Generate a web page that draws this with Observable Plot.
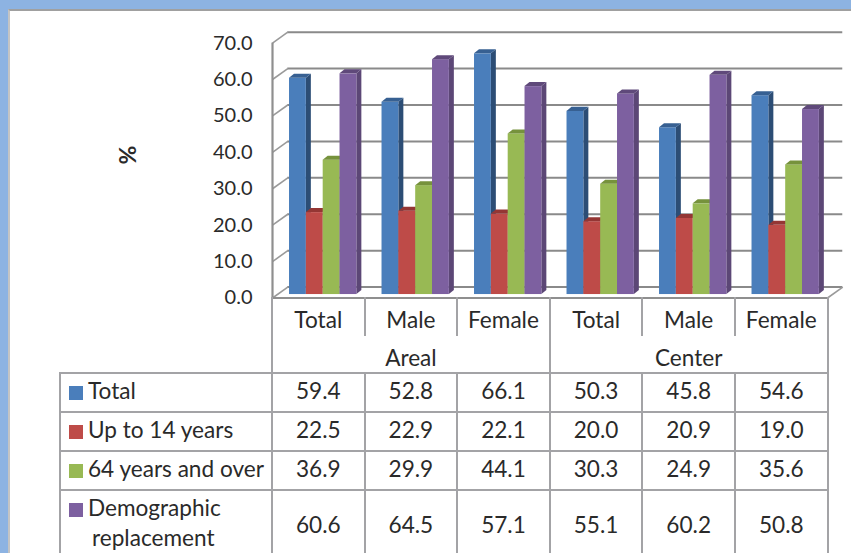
<!DOCTYPE html>
<html><head><meta charset="utf-8">
<script src="https://cdn.jsdelivr.net/npm/d3@7"></script>
<script src="https://cdn.jsdelivr.net/npm/@observablehq/plot@0.6"></script>
<style>
html,body{margin:0;padding:0;width:851px;height:553px;overflow:hidden;background:#fff;font-family:Lato,sans-serif;color:#2a2a2a}
#frame{position:absolute;left:0;top:0;width:851px;height:553px;box-sizing:border-box;background:#fff;border-top:9px solid #8db3e2;border-left:8px solid #8db3e2}
#frame:after{content:"";position:absolute;left:0;top:0;right:0;bottom:0;border-top:2px solid #a0a0a0;border-left:2px solid #c4c4c4}
#chart{position:absolute;left:0;top:0}
#chart svg{background:transparent;display:block}
table{position:absolute;left:59px;top:297px;border-collapse:collapse;table-layout:fixed;width:768px;font-size:22.6px;line-height:24px}
td{border:2px solid #a3a3a6;text-align:center;padding:0 0 4px 0;white-space:nowrap;overflow:visible}
td.n{border:none;padding:0}
td.sub{border-top:none;border-bottom:none;vertical-align:middle;padding:8px 0 0 0}
td.top{border-top:none;border-bottom:none;vertical-align:middle;padding:7px 0 0 0}
td.top.s{position:relative;border-right:none}
td.top.s:after{content:"";position:absolute;right:-2px;top:0;width:2px;height:37px;background:#a3a3a6}
td.lab{text-align:left;padding-left:8px}
td.lab i{display:inline-block;width:14px;height:14px;margin-right:5px;vertical-align:-1px}
td.b{border-bottom:none;padding:6px 0 0 0}
td.lab.b{line-height:30px;padding:2px 0 0 8px}
td.lab span.ind{display:block;padding-left:23px}
</style></head><body>
<div id="frame"></div>
<div id="chart"></div>
<script>
const regions = ["Areal", "Center"];
const categories = ["Total", "Male", "Female"];
const seriesNames = ["Total", "Up to 14 years", "64 years and over", "Demographic replacement"];
const totalValues = [59.4, 52.8, 66.1, 50.3, 45.8, 54.6];
const youngValues = [22.5, 22.9, 22.1, 20.0, 20.9, 19.0];
const oldValues = [36.9, 29.9, 44.1, 30.3, 24.9, 35.6];
const replacementValues = [60.6, 64.5, 57.1, 55.1, 60.2, 50.8];
const yTicks = [0, 10, 20, 30, 40, 50, 60, 70];

const faces = [
  {front:"#4a7ebb", side:"#2c4d75", top:"#376092"},
  {front:"#be4b48", side:"#8c3836", top:"#943634"},
  {front:"#98b954", side:"#71893f", top:"#76923c"},
  {front:"#7d60a0", side:"#5c4776", top:"#5f497a"}
];
const allValues = [totalValues, youngValues, oldValues, replacementValues];

// Plot geometry in scale units
const barLift = 0.95, backLift = 3, backShift = 0.165, barStart = 0.184, barW = 0.182, dX = 0.054, dY = 1.1;

const marks = [];
// back wall
marks.push(Plot.ruleY(yTicks, {y: d => d + backLift, x1: backShift, x2: 6 + backShift, stroke: "#8a8a8a", strokeWidth: 2}));
marks.push(Plot.link(yTicks, {x1: 0, x2: backShift, y1: d => d, y2: d => d + backLift, stroke: "#9a9a9a", strokeWidth: 1.6}));
marks.push(Plot.link([0], {x1: 6, x2: 6 + backShift, y1: 0, y2: backLift, stroke: "#9a9a9a", strokeWidth: 1.6}));

allValues.forEach((vals, j) => {
  const bars = vals.map((v, i) => ({v, x0: i + barStart + j * barW, x1: i + barStart + (j + 1) * barW, i}));
  const side = bars.flatMap(b => [
    {i: b.i, x: b.x1, lo: barLift, hi: b.v + barLift},
    {i: b.i, x: b.x1 + dX, lo: barLift + dY, hi: b.v + barLift + dY}
  ]);
  const top = bars.flatMap(b => {
    const base = b.v + barLift;
    return [
      {i: b.i, x: b.x0, lo: base, hi: base},
      {i: b.i, x: b.x0 + dX, lo: base, hi: base + dY},
      {i: b.i, x: b.x1, lo: base, hi: base + dY},
      {i: b.i, x: b.x1 + dX, lo: base + dY, hi: base + dY}
    ];
  });
  marks.push(Plot.areaY(side, {x: "x", y1: "lo", y2: "hi", z: "i", fill: faces[j].side}));
  marks.push(Plot.rect(bars, {x1: "x0", x2: "x1", y1: barLift, y2: d => d.v + barLift, fill: faces[j].front}));
  marks.push(Plot.areaY(top, {x: "x", y1: "lo", y2: "hi", z: "i", fill: faces[j].top}));
});

// front axes
marks.push(Plot.ruleX([0], {y1: 0, y2: 70, stroke: "#8f8f8f", strokeWidth: 2.2}));
marks.push(Plot.ruleY([0], {x1: 0, x2: 6, stroke: "#8f8f8f", strokeWidth: 2.2}));
marks.push(Plot.axisY(yTicks, {anchor: "left", label: null, tickSize: 0, tickPadding: 20, tickFormat: d3.format(".1f"), fontSize: 20, fill: "#2a2a2a"}));
marks.push(Plot.text(["%"], {frameAnchor: "left", dx: -144, dy: -6, rotate: -90, fontSize: 23, fontWeight: "bold", fill: "#2a2a2a"}));

const plot = Plot.plot({
  width: 851, height: 310,
  marginLeft: 272, marginRight: 5.5, marginTop: 42.6, marginBottom: 12.5,
  x: {domain: [0, 6.2], axis: null},
  y: {domain: [0, 70]},
  style: {fontFamily: "Lato, sans-serif", background: "transparent", overflow: "visible"},
  marks
});
document.getElementById("chart").append(plot);

// data table below the chart
const t = document.createElement("table");
const colgroup = `<colgroup><col style="width:212px">${categories.concat(categories).map(() => '<col style="width:92.6px">').join("")}</colgroup>`;
let html = colgroup;
html += `<tr style="height:39px"><td class="n"></td>` + regions.flatMap(() => categories.map((c, k) =>
  `<td class="top${k < 2 ? " s" : ""}">${c}</td>`)).join("") + `</tr>`;
html += `<tr style="height:37px"><td class="n" style="border-bottom:2px solid #a3a3a6"></td>` + regions.map(r => `<td class="sub" colspan="3">${r}</td>`).join("") + `</tr>`;
const h = [39, 39, 39, 63];
seriesNames.forEach((name, j) => {
  const words = j === 3 ? `Demographic<span class="ind">replacement</span>` : name;
  html += `<tr style="height:${h[j]}px"><td class="lab${j === 3 ? " b" : ""}"><i style="background:${faces[j].front}"></i>${words}</td>` +
    allValues[j].map(v => `<td class="${j === 3 ? "b" : ""}">${v.toFixed(1)}</td>`).join("") + `</tr>`;
});
t.innerHTML = html;
document.body.append(t);
</script>
</body></html>
